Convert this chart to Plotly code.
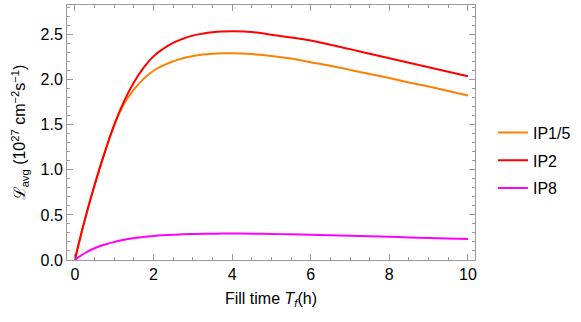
import plotly.graph_objects as go

T = [0, 0.25, 0.5, 0.75, 1.0, 1.25, 1.5, 1.75, 2.0, 2.25, 2.5, 2.75, 3.0, 3.25, 3.5, 3.75, 4.0,
     4.5, 5.0, 5.5, 6.0, 6.5, 7.0, 7.5, 8.0, 8.5, 9.0, 9.5, 10.0]
ip15 = [0, 0.44, 0.83, 1.18, 1.49, 1.73, 1.89, 2.01, 2.10, 2.16, 2.205, 2.24, 2.263, 2.28, 2.29, 2.295, 2.295,
        2.285, 2.265, 2.235, 2.195, 2.155, 2.11, 2.065, 2.02, 1.97, 1.925, 1.875, 1.825]
ip2 = [0, 0.44, 0.83, 1.18, 1.50, 1.76, 1.97, 2.135, 2.26, 2.345, 2.41, 2.455, 2.49, 2.512, 2.527, 2.535, 2.538,
       2.53, 2.50, 2.47, 2.435, 2.39, 2.34, 2.29, 2.24, 2.19, 2.14, 2.09, 2.04]
ip8 = [0, 0.075, 0.13, 0.17, 0.20, 0.224, 0.242, 0.256, 0.266, 0.274, 0.280, 0.285, 0.288, 0.290, 0.292, 0.293, 0.293,
       0.292, 0.289, 0.285, 0.280, 0.275, 0.269, 0.263, 0.257, 0.251, 0.245, 0.239, 0.233]

names = ["IP1/5", "IP2", "IP8"]
series = [ip15, ip2, ip8]
colors = ["#FF8000", "#FF0000", "#FF00FF"]

fig = go.Figure()
for n, s, c in zip(names, series, colors):
    fig.add_trace(go.Scatter(x=T, y=s, mode="lines", name=n, legendgroup=n,
                             line=dict(color=c, width=2, shape="spline", smoothing=1.3)))

font = "Liberation Sans, Arial, sans-serif"
fc = "#9A9A9A"
axcommon = dict(showgrid=False, zeroline=False, showline=True, linecolor=fc, linewidth=1,
                mirror="allticks", ticks="inside", tickcolor=fc, ticklen=6, tickwidth=1,
                automargin=False,
                tickfont=dict(family=font, size=16, color="black"))
fig.update_xaxes(range=[-0.2, 10.18], tickmode="linear", tick0=0, dtick=2,
                 minor=dict(ticks="inside", dtick=0.5, tick0=0, ticklen=3, tickcolor=fc, showgrid=False),
                 title=dict(text="Fill time <i>T</i><sub><i>f</i></sub>(h)", font=dict(family=font, size=16, color="black"), standoff=10),
                 **axcommon)
fig.update_yaxes(range=[0, 2.83], tickmode="linear", tick0=0, dtick=0.5, tickformat=".1f",
                 minor=dict(ticks="inside", dtick=0.1, tick0=0, ticklen=3, tickcolor=fc, showgrid=False),
                 title=dict(text="ℒ<sub>avg</sub> (10<sup>27</sup> cm<sup>−2</sup>s<sup>−1</sup>)", font=dict(family=font, size=16, color="black"), standoff=10),
                 **axcommon)

fig.update_layout(width=581, height=322, margin=dict(l=67, r=104, t=5, b=62),
                  paper_bgcolor="white", plot_bgcolor="white",
                  showlegend=True,
                  legend=dict(x=1.044, xanchor="left", y=0.39, yanchor="middle", tracegroupgap=4,
                              font=dict(family=font, size=16, color="black"), bgcolor="rgba(0,0,0,0)"))
fig.write_html("out.html", config={"displayModeBar": False},
               post_script="document.body.style.margin='0';document.body.style.padding='0';")
